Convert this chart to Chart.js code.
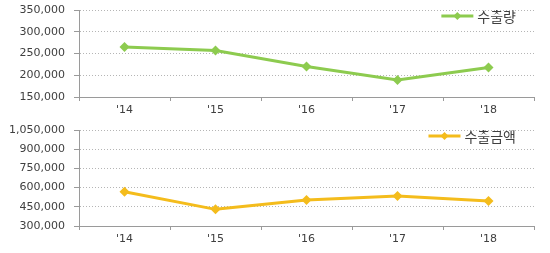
<!DOCTYPE html>
<html>
<head>
<meta charset="utf-8">
<script src="https://cdn.jsdelivr.net/npm/chart.js@4/dist/chart.umd.min.js"></script>
<style>
  html, body { margin: 0; padding: 0; background: #fff; }
  #wrap { position: relative; width: 550px; height: 253px; }
  .box { position: absolute; left: 0; width: 550px; }
</style>
</head>
<body>
<div id="wrap">
  <div class="box" style="top:0;height:120px"><canvas id="volChart"></canvas></div>
  <div class="box" style="top:120px;height:133px"><canvas id="amtChart"></canvas></div>
</div>
<script>
const years = ["'14", "'15", "'16", "'17", "'18"];
const exportVolume = [265000, 257000, 220000, 189000, 218000];
const exportAmount = [568000, 430000, 503000, 534000, 495000];
const volumeTicks = { min: 150000, max: 350000, step: 50000 };
const amountTicks = { min: 300000, max: 1050000, step: 150000 };

const textColor = '#404040';

// legend drawn inside the plot, top right
const innerLegend = {
    id: 'innerLegend',
    afterDraw(chart) {
        const ctx = chart.ctx;
        const ds = chart.data.datasets[0];
        const area = chart.chartArea;
        ctx.save();
        ctx.font = '14px "Noto Sans CJK KR"';
        const tw = ctx.measureText(ds.label).width;
        const textX = area.right - 18 - tw;
        const y = area.top + 6;
        const x1 = textX - 36, x2 = textX - 4;
        ctx.strokeStyle = ds.borderColor;
        ctx.lineWidth = 3;
        ctx.beginPath();
        ctx.moveTo(x1, y);
        ctx.lineTo(x2, y);
        ctx.stroke();
        const mx = (x1 + x2) / 2;
        ctx.fillStyle = ds.borderColor;
        ctx.beginPath();
        ctx.moveTo(mx, y - 4);
        ctx.lineTo(mx + 4, y);
        ctx.lineTo(mx, y + 4);
        ctx.lineTo(mx - 4, y);
        ctx.closePath();
        ctx.fill();
        ctx.fillStyle = textColor;
        ctx.textBaseline = 'middle';
        ctx.fillText(ds.label, textX, y + 1);
        ctx.restore();
    }
};

function makeChart(id, label, values, range, color, xHeight) {
    const ctx = document.getElementById(id).getContext('2d');
    return new Chart(ctx, {
        type: 'line',
        data: {
            labels: years,
            datasets: [{
                label: label,
                data: values,
                borderColor: color,
                backgroundColor: color,
                borderWidth: 3,
                pointStyle: 'rectRot',
                pointRadius: 5,
                pointBorderWidth: 0,
                tension: 0
            }]
        },
        options: {
            responsive: true,
            maintainAspectRatio: false,
            animation: false,
            layout: { padding: { top: 10, right: 16, left: 0, bottom: 0 } },
            plugins: {
                legend: { display: false },
                tooltip: { enabled: false }
            },
            scales: {
                x: {
                    offset: true,
                    afterFit: s => { s.height = xHeight; },
                    grid: {
                        offset: true,
                        drawOnChartArea: false,
                        tickLength: 4,
                        tickColor: '#9a9a9a'
                    },
                    border: { color: '#9a9a9a', width: 1 },
                    ticks: {
                        color: textColor,
                        padding: 3,
                        font: { family: 'DejaVu Sans', size: 11 }
                    }
                },
                y: {
                    min: range.min,
                    max: range.max,
                    // fixed axis width, no extra label padding above the plot
                    afterFit: s => { s.width = 79; s.paddingTop = 0; s.paddingBottom = 0; },
                    grid: {
                        color: '#b5b5b5',
                        tickLength: 5,
                        tickColor: '#9a9a9a'
                    },
                    border: { color: '#9a9a9a', width: 1, dash: [1, 2] },
                    ticks: {
                        stepSize: range.step,
                        color: textColor,
                        padding: 9,
                        font: { family: 'DejaVu Sans', size: 11 },
                        callback: v => v.toLocaleString('en-US')
                    }
                }
            }
        },
        plugins: [innerLegend]
    });
}

makeChart('volChart', '수출량', exportVolume, volumeTicks, '#8DCB4F', 23);
makeChart('amtChart', '수출금액', exportAmount, amountTicks, '#F4BC1C', 27);
</script>
</body>
</html>
